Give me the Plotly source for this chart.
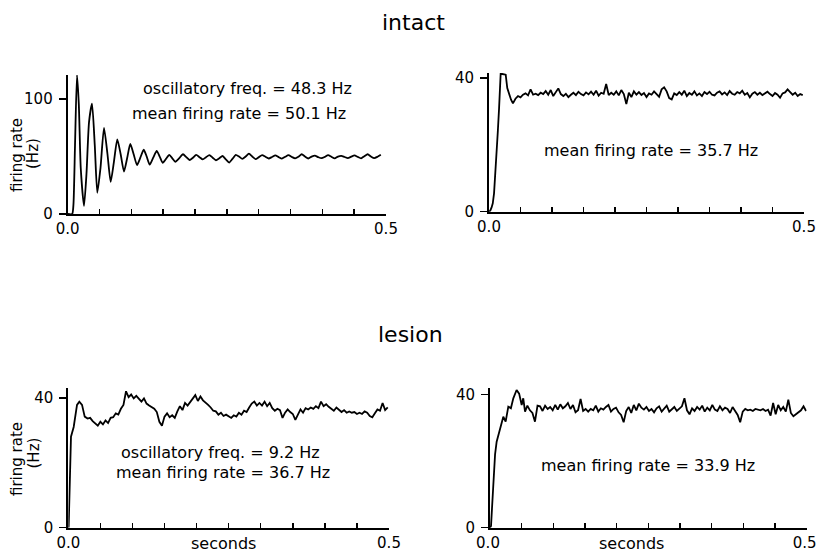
import plotly.graph_objects as go

FONT = "DejaVu Sans"

# ---------------- data ----------------
# intact, left panel (damped 48 Hz oscillation)
p1_onset_t = [0.000, 0.007, 0.009, 0.0115, 0.0146, 0.0175, 0.0205, 0.0256, 0.0295, 0.0335,
              0.0382, 0.0425, 0.0465, 0.0515, 0.057, 0.0625, 0.0675, 0.0725, 0.0779, 0.0832,
              0.0884, 0.0935, 0.0983, 0.1036, 0.1089, 0.1141, 0.1194, 0.1241, 0.1288, 0.1343,
              0.1398, 0.1445, 0.1492, 0.1544, 0.1596, 0.1643, 0.169, 0.175]
p1_onset_y = [0, 0, 8, 60, 121, 95, 40, 7, 35, 80,
              96, 60, 18.5, 40, 75, 52, 28, 45, 65, 52,
              37, 49, 61, 52, 42.6, 49, 56, 50, 43, 49,
              55, 50, 44.6, 48, 51.5, 48.5, 45.5, 48.5]
p1_tail_t0 = 0.1811
p1_tail_dt = 0.00518
p1_tail_y = [52.0, 49.5, 47.0, 49.0, 51.5, 49.5, 47.5, 49.5, 51.3, 49.0,
             46.8, 48.5, 50.5, 47.5, 44.8, 48.0, 51.5, 50.0, 48.0, 50.0,
             52.5, 50.0, 47.8, 49.5, 51.3, 49.8, 48.3, 49.6, 51.0, 49.5,
             48.2, 49.8, 51.2, 49.6, 48.5, 49.8, 52.0, 50.0, 48.3, 49.9,
             50.8, 49.5, 48.6, 49.7, 51.3, 49.8, 48.4, 50.0, 50.6, 49.6,
             48.7, 49.9, 51.0, 49.7, 48.5, 50.3, 52.0, 50.0, 48.6, 49.8,
             51.5]

# intact, right panel
p2_onset_t = [0.000, 0.002, 0.004, 0.006, 0.008, 0.010, 0.012, 0.014, 0.016, 0.0185,
              0.021, 0.024, 0.0265, 0.029, 0.032, 0.035, 0.038]
p2_onset_y = [0, 0.3, 1.2, 2.5, 5.5, 11, 17, 24, 31, 41.2,
              41.2, 41.2, 41.0, 37.0, 35.0, 33.5, 32.4]
p2_noise_t0 = 0.042
p2_noise_dt = 0.004
p2_noise_y = [33.8, 34.6, 34.2, 35.0, 35.4, 34.8, 36.6, 35.0, 35.3, 34.9,
              35.6, 35.2, 36.1, 35.0, 36.4, 34.6, 35.8, 36.9, 35.2, 34.6,
              35.3, 34.3, 35.0, 35.6, 34.9, 35.9, 35.2, 34.8, 35.7, 35.1,
              35.9, 35.0, 36.2, 34.7, 35.6, 35.3, 38.2, 34.9, 35.6, 35.0,
              36.0, 34.8, 36.4, 35.2, 32.2, 35.6, 34.3, 36.0, 35.0, 35.8,
              34.9, 35.5, 34.3, 35.4, 35.0, 36.0, 35.2, 34.4, 36.6, 37.2,
              36.0, 34.0, 33.6, 35.4, 34.9, 35.8, 35.0, 36.2, 34.6, 35.5,
              35.0, 36.0, 34.8, 35.4, 34.6, 35.8, 35.2, 35.9, 35.0, 34.8,
              35.6, 36.0, 35.1, 35.7, 34.9, 36.1, 35.3, 35.0, 35.8, 35.4,
              36.2, 35.0, 35.5, 34.2, 35.3, 35.8, 35.0, 35.6, 34.9, 35.4,
              35.9, 35.2, 34.6, 35.5, 35.0, 34.1, 35.4, 35.7, 36.6, 35.8,
              35.0, 35.6, 34.6, 35.2, 34.9]

# lesion, left panel (slow 9 Hz wobble)
p3_onset_t = [0.000, 0.0006, 0.0042, 0.0084, 0.0136, 0.0172, 0.0214, 0.0256, 0.030, 0.034,
              0.038, 0.042, 0.046, 0.050]
p3_onset_y = [0, 0.5, 28, 31, 37.8, 38.8, 37.8, 34.2, 33.6, 33.8,
              32.8, 32.2, 31.4, 32.6]
p3_noise_t0 = 0.054
p3_noise_dt = 0.004
p3_noise_y = [31.8, 33.0, 32.2, 33.8, 34.0, 35.2, 34.8, 36.6, 37.8, 42.0,
              40.2, 41.0, 39.8, 40.6, 39.6, 38.8, 39.8, 38.2, 37.6, 37.0,
              36.6, 35.6, 32.6, 31.4, 34.2, 35.2, 34.0, 34.6, 33.8, 35.8,
              37.4, 36.2, 38.4, 37.6, 38.8, 39.8, 40.8, 39.0, 40.4, 39.2,
              38.6, 37.8, 37.0, 36.0, 35.8, 34.8, 35.4, 34.4, 34.8, 34.2,
              33.8, 34.6, 34.2, 35.4, 34.8, 36.0, 35.6, 37.0, 38.2, 38.8,
              37.6, 38.4, 37.6, 38.8, 37.4, 38.4, 36.8, 36.0, 36.6, 36.2,
              33.8, 35.4, 36.4, 35.6, 35.0, 33.2, 34.6, 36.4, 35.4, 36.8,
              36.4, 37.0, 36.6, 37.4, 36.8, 38.8, 37.4, 38.0, 37.2, 36.6,
              36.0, 37.0, 36.2, 35.6, 36.2, 35.4, 35.8, 35.4, 35.6, 35.0,
              35.4, 35.0, 35.8, 35.4, 34.4, 34.0, 35.2, 36.4, 36.0, 38.4,
              36.2, 37.0]

# lesion, right panel
p4_onset_t = [0.000, 0.0016, 0.005, 0.008, 0.0105, 0.0158, 0.019, 0.021, 0.0247, 0.0289,
              0.033, 0.0368, 0.042, 0.046, 0.050, 0.0525, 0.0553, 0.059, 0.063, 0.067,
              0.071, 0.075]
p4_onset_y = [0, 0.5, 12, 22, 25.8, 29.3, 31.5, 33.3, 31.8, 36.3,
              35.8, 38.8, 41.3, 40.2, 36.8, 38.8, 34.8, 36.6, 35.2, 34.4,
              31.8, 36.6]
p4_noise_t0 = 0.079
p4_noise_dt = 0.004
p4_noise_y = [36.4, 35.0, 36.6, 35.6, 36.2, 35.2, 36.8, 35.4, 37.0, 35.8,
              36.4, 37.4, 35.6, 36.8, 34.6, 35.2, 38.6, 35.0, 35.6, 34.8,
              35.6, 35.2, 36.6, 34.8, 35.8, 35.4, 36.2, 36.8, 34.8, 35.6,
              36.0, 34.6, 33.8, 31.6, 35.0, 36.2, 34.4, 36.8, 35.2, 37.2,
              36.0, 35.4, 36.2, 35.0, 35.6, 34.6, 35.8, 36.4, 34.8, 35.6,
              36.6, 34.8, 35.6, 36.2, 35.0, 35.8, 36.4, 38.8, 35.2, 34.0,
              35.8, 35.0, 36.2, 35.4, 36.6, 34.8, 36.0, 35.2, 36.8, 35.4,
              35.0, 36.4, 35.2, 36.0, 35.6, 34.4, 36.2, 35.0, 33.8, 31.6,
              34.8, 35.6, 35.2, 35.4, 35.0, 35.6, 35.4, 35.2, 35.6, 35.0,
              35.4, 33.6, 37.4, 34.0, 36.8, 35.2, 36.2, 34.8, 38.4, 34.4,
              33.4, 34.0, 34.8, 35.2, 36.4, 35.0]

x_tickvals = [0.0, 0.05, 0.10, 0.15, 0.20, 0.25, 0.30, 0.35, 0.40, 0.45, 0.50]
x_ticktext = ["0.0", "", "", "", "", "", "", "", "", "", "0.5"]
y1_tickvals = [0, 100]
y_tickvals = [0, 40]

group_titles = ["intact", "lesion"]
p1_notes = ["oscillatory freq. = 48.3 Hz", "mean firing rate = 50.1 Hz"]
p2_notes = ["mean firing rate = 35.7 Hz"]
p3_notes = ["oscillatory freq. = 9.2 Hz", "mean firing rate = 36.7 Hz"]
p4_notes = ["mean firing rate = 33.9 Hz"]
ylabel_lines = ["firing rate", "(Hz)"]
xlabel = "seconds"


def grid(t0, dt, ys):
    return [t0 + i * dt for i in range(len(ys))]


traces = [
    (p1_onset_t + grid(p1_tail_t0, p1_tail_dt, p1_tail_y), p1_onset_y + p1_tail_y, "spline"),
    (p2_onset_t + grid(p2_noise_t0, p2_noise_dt, p2_noise_y), p2_onset_y + p2_noise_y, "linear"),
    (p3_onset_t + grid(p3_noise_t0, p3_noise_dt, p3_noise_y), p3_onset_y + p3_noise_y, "linear"),
    (p4_onset_t + grid(p4_noise_t0, p4_noise_dt, p4_noise_y), p4_onset_y + p4_noise_y, "linear"),
]

W, H = 818, 555


def px(x):
    return x / W


def py(y):
    return (H - y) / H


# panel frames in page pixels: (left, right, bottom, top), y range top, ticks, label shift
frames = [
    (67.7, 386.0, 214.0, 75.0, 121.0, y1_tickvals, 0),
    (489.0, 804.0, 211.7, 73.0, 41.5, y_tickvals, 0),
    (68.3, 389.0, 527.7, 388.0, 43.0, y_tickvals, 0),
    (490.0, 806.7, 527.7, 388.3, 41.8, y_tickvals, -2),
]

fig = go.Figure()
layout = dict(
    width=W, height=H, autosize=False,
    margin=dict(l=0, r=0, t=0, b=0, pad=0, autoexpand=False),
    paper_bgcolor="white", plot_bgcolor="white",
    showlegend=False,
    font=dict(family=FONT, size=16, color="black"),
)

for i, ((tx, ty, shape), fr) in enumerate(zip(traces, frames)):
    n = i + 1
    xa = "x" if n == 1 else f"x{n}"
    ya = "y" if n == 1 else f"y{n}"
    fig.add_trace(go.Scatter(
        x=tx, y=ty, mode="lines", xaxis=xa, yaxis=ya,
        line=dict(color="black", width=1.8, shape=shape, smoothing=0.6),
        hoverinfo="skip",
    ))
    left, right, bottom, top, ytop, ytv, shift = fr
    layout["xaxis" if n == 1 else f"xaxis{n}"] = dict(
        domain=[px(left), px(right)], anchor=ya, range=[0, 0.5],
        showline=True, linecolor="black", linewidth=2,
        showgrid=False, zeroline=False,
        ticks="inside", ticklen=5, tickwidth=1.5, tickcolor="black",
        tickvals=x_tickvals, ticktext=x_ticktext, ticklabelshift=shift,
        ticklabeloverflow="allow",
        tickfont=dict(family=FONT, size=15, color="black"),
        automargin=False, fixedrange=True,
    )
    layout["yaxis" if n == 1 else f"yaxis{n}"] = dict(
        domain=[py(bottom), py(top)], anchor=xa, range=[0, ytop],
        showline=True, linecolor="black", linewidth=2,
        showgrid=False, zeroline=False,
        ticks="outside", ticklen=7, tickwidth=1.5, tickcolor="black",
        tickvals=ytv, ticklabelstandoff=3,
        tickfont=dict(family=FONT, size=15, color="black"),
        automargin=False, fixedrange=True,
    )

annotations = []


def note(text, x, y, size=16, angle=0):
    annotations.append(dict(
        text=text, x=px(x), y=py(y), xref="paper", yref="paper",
        xanchor="center", yanchor="middle", showarrow=False, textangle=angle,
        font=dict(family=FONT, size=size, color="black"),
    ))


note(group_titles[0], 414, 22, size=22)
note(group_titles[1], 411, 334, size=22)

note(p1_notes[0], 247.5, 88)
note(p1_notes[1], 239, 113.5)
note(p2_notes[0], 650.5, 150.7)
note(p3_notes[0], 220, 452.5)
note(p3_notes[1], 223.3, 472)
note(p4_notes[0], 648, 465)

note(ylabel_lines[0], 17, 155, size=15, angle=-90)
note(ylabel_lines[1], 33.5, 153.5, size=15, angle=-90)
note(ylabel_lines[0], 17, 459, size=15, angle=-90)
note(ylabel_lines[1], 33.5, 453, size=15, angle=-90)

note(xlabel, 223, 543)
note(xlabel, 631, 543)

layout["annotations"] = annotations
fig.update_layout(**layout)
fig.write_html(
    "out.html",
    config={"displayModeBar": False, "staticPlot": True},
    post_script="document.body.style.margin='0px';document.body.style.overflow='hidden';",
)
